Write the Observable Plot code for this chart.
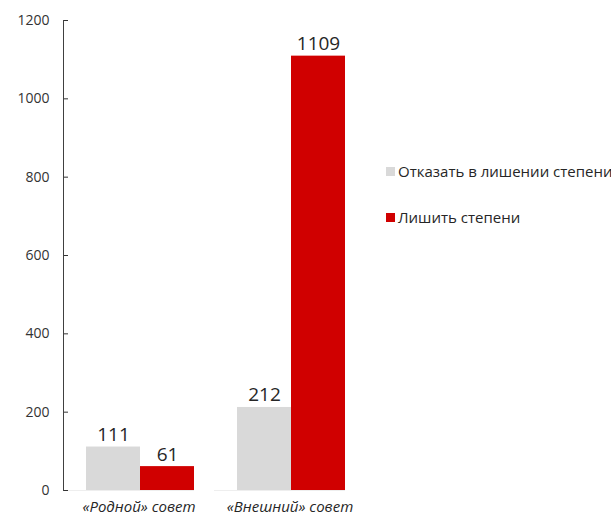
<!DOCTYPE html>
<html>
<head>
<meta charset="utf-8">
<script src="https://cdn.jsdelivr.net/npm/d3@7"></script>
<script src="https://cdn.jsdelivr.net/npm/@observablehq/plot@0.6"></script>
<style>
  html, body { margin: 0; padding: 0; background: #fff; }
  #wrap { position: relative; width: 611px; height: 519px; font-family: "Open Sans", sans-serif; }
  #legend { position: absolute; left: 386px; top: 160px; font-size: 15px; color: #262626; }
  #legend .item { display: flex; align-items: center; height: 22px; margin-bottom: 24px; white-space: nowrap; }
  #legend .sw { width: 9px; height: 9px; margin-right: 3px; }
</style>
</head>
<body>
<div id="wrap"><div id="legend"></div></div>
<script>
const categories = ["«Родной» совет", "«Внешний» совет"];
const series = ["Отказать в лишении степени", "Лишить степени"];
const refuseValues = [111, 212];
const revokeValues = [61, 1109];
const colors = ["#d9d9d9", "#d00000"];
const yTicks = [0, 200, 400, 600, 800, 1000, 1200];

const data = [];
categories.forEach((c, i) => {
  data.push({category: c, series: series[0], value: refuseValues[i]});
  data.push({category: c, series: series[1], value: revokeValues[i]});
});

const chart = Plot.plot({
  width: 611,
  height: 519,
  marginLeft: 63,
  marginRight: 266,
  marginTop: 20,
  marginBottom: 29,
  style: {fontFamily: "Open Sans, sans-serif", background: "transparent"},
  fx: {domain: categories, paddingInner: 0.1325, paddingOuter: 0, label: null, axis: null},
  x: {domain: series, paddingInner: 0, paddingOuter: 0.191, align: 1, axis: null},
  y: {domain: [0, 1200], axis: null},
  color: {domain: series, range: colors},
  marks: [
    Plot.ruleY([0], {stroke: "#eeeeee"}),
    Plot.barY(data, {fx: "category", x: "series", y: "value", fill: "series"}),
    Plot.text(data, {fx: "category", x: "series", y: "value", text: d => String(d.value),
      lineAnchor: "bottom", dy: -6, fontSize: 19, fill: "#262626"}),
    Plot.axisY({ticks: yTicks, tickSize: -5, tickPadding: 19, tickFormat: d => String(d),
      fontSize: 14, color: "#333333", label: null, facetAnchor: "left"}),
    Plot.frame({anchor: "left", stroke: "#404040", facetAnchor: "left"}),
    Plot.axisFx({anchor: "bottom", tickSize: 0, tickPadding: 11, fontSize: 15, dx: 10,
      fontStyle: "italic", letterSpacing: "0.3px", color: "#262626", label: null})
  ]
});
document.getElementById("wrap").prepend(chart);

const legend = document.getElementById("legend");
series.forEach((s, i) => {
  const item = document.createElement("div");
  item.className = "item";
  const sw = document.createElement("span");
  sw.className = "sw";
  sw.style.background = colors[i];
  const t = document.createElement("span");
  t.textContent = s;
  item.append(sw, t);
  legend.append(item);
});
</script>
</body>
</html>
